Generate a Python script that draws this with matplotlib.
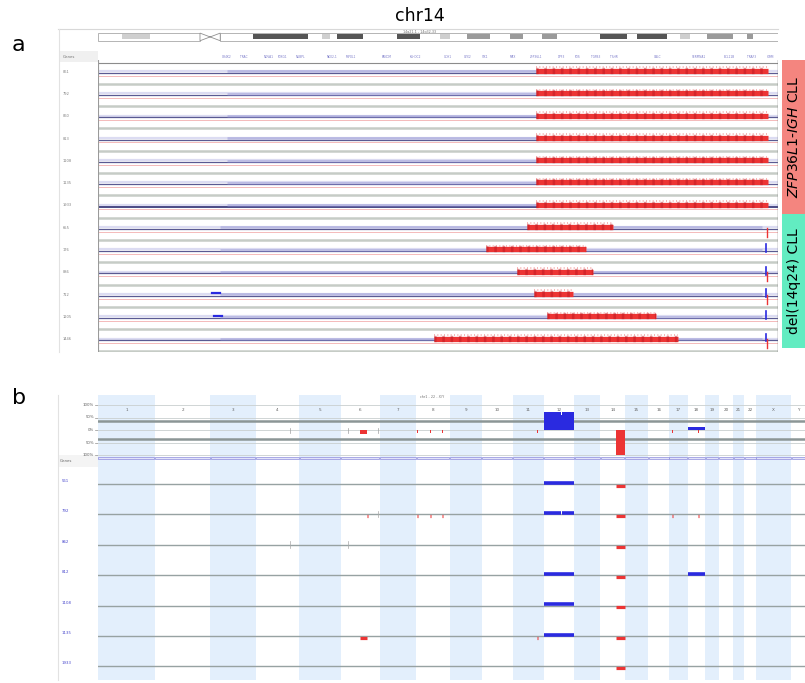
"""
chr14 copy number figure: (a) chr14 detail for 13 CLL cases, (b) genome-wide view
"""
import matplotlib.pyplot as plt
from matplotlib.patches import Rectangle, Polygon

W, H = 805, 683

# ---------------- panel a data (chr14, positions in Mb) ----------------
chr14_len = 107.35
band_start = [3.8, 24.5, 35.4, 37.7, 47.2, 54.0, 58.3, 65.0, 70.1, 79.3, 85.1, 91.9, 96.1, 102.5]
band_end = [8.2, 33.2, 36.6, 41.8, 50.8, 55.6, 61.9, 67.1, 72.5, 83.5, 89.8, 93.5, 100.2, 103.4]
band_stain = ['gpos25', 'gpos100', 'gpos25', 'gpos100', 'gpos100', 'gpos25', 'gpos50',
              'gpos50', 'gpos50', 'gpos100', 'gpos100', 'gpos25', 'gpos50', 'gpos50']
cen_start, cen_end = 16.1, 19.3

gene_names = ['OR4K2', 'TRAC', 'NOVA1', 'FOXG1', 'NUBPL', 'NKX2-1', 'MIPOL1', 'FANCM',
              'KLHDC2', 'GCH1', 'OTX2', 'SIX1', 'MAX', 'ZFP36L1', 'DPF3', 'FOS', 'TGFB3',
              'TSHR', 'GALC', 'SERPINA1', 'BCL11B', 'TRAF3', 'IGHM']
gene_pos = [20.3, 23.0, 26.9, 29.2, 32.0, 36.9, 40.0, 45.6, 50.2, 55.3, 58.3, 61.1, 65.5,
            69.2, 73.1, 75.7, 78.5, 81.4, 88.4, 94.8, 99.6, 103.2, 106.2]

a_samples = ['861', '792', '860', '813', '1108', '1135', '1933',
             '655', '176', '886', '712', '1205', '1446']
noise_start = [20.4, 20.4, 20.4, 20.4, 20.4, 20.4, 20.4, 19.3, 19.3, 19.3, 19.3, 19.3, 19.3]
loss_start = [69.2, 69.2, 69.2, 69.2, 69.2, 69.2, 69.2, 67.7, 61.2, 66.1, 68.8, 70.9, 53.0]
loss_end = [105.7, 105.7, 105.7, 105.7, 105.7, 105.7, 105.7, 81.3, 77.0, 78.1, 75.0, 88.1, 91.5]
# small calls at the IGH locus for the del(14q24) cases
igh_row = [7, 8, 9, 9, 10, 10, 11, 12, 12]
igh_kind = ['loss', 'gain', 'gain', 'loss', 'gain', 'loss', 'gain', 'gain', 'loss']
igh_pos = 105.4
# small gains near start of q arm
cen_gain_row = [10, 11]
cen_gain_pos = [18.6, 18.9]

# ---------------- panel b data (genome, Mb) ----------------
chroms = ['1', '2', '3', '4', '5', '6', '7', '8', '9', '10', '11', '12', '13', '14',
          '15', '16', '17', '18', '19', '20', '21', '22', 'X', 'Y']
chrom_len = [249.3, 243.2, 198.0, 191.2, 180.9, 171.1, 159.1, 146.4, 141.2, 135.5,
             135.0, 133.9, 115.2, 107.4, 102.5, 90.4, 81.2, 78.1, 59.1, 63.0, 48.1,
             51.3, 155.3, 59.4]

# aggregate profile: chromosome, start, end, fraction (+ gain, - loss)
cn_chrom = ['12', '12', '12', '14', '18', '18', '8', '8', '8', '11', '17', '6', '6']
cn_start = [0.0, 76.0, 80.0, 69.0, 0.0, 44.0, 4.0, 61.0, 113.0, 107.0, 14.0, 86.0, 110.0]
cn_end = [76.0, 80.0, 133.9, 106.3, 78.1, 52.0, 8.0, 65.0, 117.0, 111.0, 18.0, 117.0, 113.0]
cn_value = [0.72, 0.62, 0.72, -1.0, 0.13, -0.12, -0.12, -0.12, -0.12, -0.12, -0.12, -0.15, -0.42]
# faint single-probe calls
faint_chrom = ['4', '6', '6']
faint_pos = [151.0, 33.0, 165.0]

b_samples = ['561', '792', '862', '812', '1108', '1135', '1933']
ev_row = [0, 0, 1, 1, 1, 1, 1, 1, 1, 1, 1, 2, 3, 3, 3, 4, 4, 5, 5, 5, 5, 6]
ev_chrom = ['12', '14', '12', '12', '8', '8', '8', '6', '14', '17', '18', '14', '12', '14', '18',
            '12', '14', '12', '11', '6', '14', '14']
ev_start = [0.0, 69.0, 0.0, 83.0, 4.0, 61.0, 113.0, 114.0, 69.0, 14.0, 46.0, 69.0, 0.0, 69.0, 0.0,
            0.0, 69.0, 0.0, 107.0, 86.0, 69.0, 69.0]
ev_end = [133.9, 106.3, 74.5, 133.9, 8.0, 65.0, 117.0, 118.0, 106.3, 18.0, 50.0, 106.3, 133.9,
          106.3, 78.1, 133.9, 106.3, 133.9, 111.0, 117.0, 106.3, 106.3]
ev_kind = ['gain', 'loss', 'gain', 'gain', 'loss', 'loss', 'loss', 'loss', 'loss', 'loss', 'loss',
           'loss', 'gain', 'loss', 'gain', 'gain', 'loss', 'gain', 'loss', 'loss', 'loss', 'loss']
ev_faint_row = [1, 2, 2]
ev_faint_chrom = ['6', '4', '6']
ev_faint_pos = [165.0, 151.0, 33.0]

BLUE = '#2a2ae0'
RED = '#ec3434'
STAIN = {'gpos25': '#cfcfcf', 'gpos50': '#9a9a9a', 'gpos100': '#555555'}

fig = plt.figure(figsize=(W / 100, H / 100), dpi=100)


def px_axes(x0, y0, x1, y1, z=1):
    ax = fig.add_axes([x0 / W, 1 - y1 / H, (x1 - x0) / W, (y1 - y0) / H], zorder=z)
    ax.set_axis_off()
    return ax


# background axes in pixel units for frame lines and labels
bg = px_axes(0, 0, W, H, z=0)
bg.set_xlim(0, W)
bg.set_ylim(H, 0)

bg.text(12, 45, 'a', fontsize=16, va='center')
bg.text(12, 398, 'b', fontsize=16, va='center')
bg.text(420, 16, 'chr14', fontsize=12.5, ha='center', va='center')
bg.text(420, 32, '14q21.1 - 14q32.33', fontsize=2.4, ha='center', va='center', color='#707070')
bg.text(432, 397, 'chr1 - 22 - X/Y', fontsize=2.4, ha='center', va='center', color='#707070')

# panel a frame
bg.plot([58, 778], [29, 29], color='#d8d8d8', lw=0.8)
bg.plot([59, 59], [29, 352], color='#e2e2e2', lw=0.8)
bg.add_patch(Rectangle((59, 51), 39, 11, color='#f0f0f0', lw=0))
bg.text(63, 57, 'Genes', fontsize=2.8, va='center', color='#707070')

# panel b frame
bg.plot([58, 58], [395, 680], color='#e2e2e2', lw=0.8)
bg.add_patch(Rectangle((58, 455), 40, 12, color='#f4f4f4', lw=0))
bg.text(60, 461, 'Genes', fontsize=2.8, va='center', color='#606060')

# ---------------- panel a: ideogram ----------------
ideo = px_axes(98, 28, 778, 45, z=2)
ideo.set_xlim(0, chr14_len)
ideo.set_ylim(1, 0)
y0, hgt = 0.3, 0.45
ideo.add_patch(Rectangle((0, y0), cen_start, hgt, fc='white', ec='#a8a8a8', lw=0.6))
ideo.add_patch(Rectangle((cen_end, y0), chr14_len - cen_end, hgt, fc='white', ec='#a8a8a8', lw=0.6))
for s, e, st in zip(band_start, band_end, band_stain):
    ideo.add_patch(Rectangle((s, y0 + 0.08), e - s, hgt - 0.16, color=STAIN[st], lw=0))
ideo.add_patch(Rectangle((cen_start, y0), cen_end - cen_start, hgt, color='white', lw=0))
ideo.add_patch(Polygon([(cen_start, y0), (cen_end, y0 + hgt), (cen_end, y0), (cen_start, y0 + hgt)],
                       closed=True, fc='white', ec='#909090', lw=0.6))

# gene track
genes = px_axes(98, 51, 778, 62, z=2)
genes.set_xlim(0, chr14_len)
genes.set_ylim(1, 0)
for name, pos in zip(gene_names, gene_pos):
    genes.text(pos, 0.5, name, fontsize=2.1, color='#7878c8', ha='center', va='center')

# ---------------- panel a: sample tracks ----------------
row_px0, row_step = 72.7, 22.3
axa = px_axes(98, 60, 778, 352, z=2)
axa.set_xlim(0, chr14_len)
axa.set_ylim((352 - row_px0) / row_step, (60 - row_px0) / row_step)

axa.axhline(-0.45, color='#8c8c8c', lw=0.8)
for i, name in enumerate(a_samples):
    axa.axhline(i + 0.5, color='#c6ccc6', lw=1.8)
    axa.axhline(i - 0.08, color='#dcdcf2', lw=1.6)
    axa.axhline(i, color='#3c3c7c' if name == '1933' else '#5a5a92', lw=1.3 if name == '1933' else 0.9)
    axa.axhline(i + 0.13, color='#f3b0b0', lw=0.6)
    # faint log-ratio scatter before the deletion
    axa.plot([noise_start[i], loss_start[i]], [i - 0.06, i - 0.06], color='#8e8ed0', lw=2.0,
             alpha=0.45, solid_capstyle='butt')
    if loss_end[i] < 105:
        axa.plot([loss_end[i], 104.8], [i - 0.06, i - 0.06], color='#8e8ed0', lw=2.0,
                 alpha=0.45, solid_capstyle='butt')
    # deleted segment
    axa.plot([loss_start[i], loss_end[i]], [i - 0.08, i - 0.08], color=RED, lw=3.8,
             solid_capstyle='butt')
    axa.plot([loss_start[i], loss_end[i]], [i - 0.08, i - 0.08], color='#b8141e', lw=4.6,
             alpha=0.45, ls=(0, (0.4, 0.9)))
    axa.plot([loss_start[i], loss_end[i]], [i - 0.24, i - 0.24], color='#f07070', lw=1.2,
             alpha=0.6, ls=(0, (0.6, 1.4)))
    bg.text(63, row_px0 + row_step * i - 1, name, fontsize=2.6, va='center', color='#808080')

for r, k in zip(igh_row, igh_kind):
    if k == 'gain':
        axa.plot([igh_pos, igh_pos], [r - 0.3, r + 0.05], color=BLUE, lw=1.2)
    else:
        axa.plot([igh_pos + 0.25, igh_pos + 0.25], [r - 0.05, r + 0.35], color=RED, lw=1.0)
for r, p in zip(cen_gain_row, cen_gain_pos):
    axa.plot([p - 0.6, p + 0.6], [r - 0.1, r - 0.1], color=BLUE, lw=1.6)

axa.axvline(0, color='#9a9a9a', lw=0.8)
axa.axvline(chr14_len, color='#6a6a6a', lw=1.0)

# group labels on the right
grp = px_axes(782, 60, 805, 348, z=2)
grp.set_xlim(0, 1)
grp.set_ylim(348, 60)
grp.add_patch(Rectangle((0, 60), 1, 154, color='#f4857f', lw=0))
grp.add_patch(Rectangle((0, 214), 1, 134, color='#62ecc1', lw=0))
grp.text(0.5, 137, r'$\mathit{ZFP36L1}$-$\mathit{IGH}$ CLL', rotation=90, fontsize=10,
         ha='center', va='center')
grp.text(0.5, 281, 'del(14q24) CLL', rotation=90, fontsize=10, ha='center', va='center')

# ---------------- panel b: genome-wide ----------------
offset = {}
cum = 0.0
for c, L in zip(chroms, chrom_len):
    offset[c] = cum
    cum += L
total = cum

chrax = px_axes(98, 395, 805, 680, z=1)
chrax.set_xlim(0, total)
chrax.set_ylim(680, 395)
for k, (c, L) in enumerate(zip(chroms, chrom_len)):
    if k % 2 == 0:
        chrax.axvspan(offset[c], offset[c] + L, color='#e3effc', lw=0)
    chrax.text(offset[c] + L / 2, 410, c, fontsize=3, ha='center', va='center', color='#606060')

# aggregate copy number track
cn = px_axes(98, 400, 805, 460, z=2)
cn.set_xlim(0, total)
cn.set_ylim(-1.2, 1.2)
for lvl in [1.0, 0.5, 0.0, -0.5, -1.0]:
    cn.axhline(lvl, color='#c9cfcf', lw=0.6, zorder=1)
cn.axhline(0.36, color='#8c9696', lw=1.8, zorder=1)
cn.axhline(-0.36, color='#8c9696', lw=1.8, zorder=1)
for lbl, lvl in zip(['100%', '50%', '0%', '50%', '100%'], [1.0, 0.5, 0.0, -0.5, -1.0]):
    bg.text(94, 430 - 25 * lvl, lbl, fontsize=2.8, ha='right', va='center', color='#606060')
    bg.plot([95, 98], [430 - 25 * lvl] * 2, color='#909090', lw=0.5)
for c, s, e, v in zip(cn_chrom, cn_start, cn_end, cn_value):
    cn.add_patch(Rectangle((offset[c] + s, 0), e - s, v, color=BLUE if v > 0 else RED, lw=0,
                           zorder=3))
for c, p in zip(faint_chrom, faint_pos):
    cn.plot([offset[c] + p] * 2, [-0.12, 0.1], color='#a0a0a0', lw=0.5, zorder=3)
# gene strip
for c, L in zip(chroms, chrom_len):
    cn.add_patch(Rectangle((offset[c] + 2, -1.16), L - 4, 0.08, fc='#e2e2fa', ec='#8c8cdc', lw=0.5,
                           zorder=3))

# per-sample calls
rows_px0, rows_step = 484, 30.4
rows = px_axes(98, 470, 805, 680, z=2)
rows.set_xlim(0, total)
rows.set_ylim((680 - rows_px0) / rows_step, (470 - rows_px0) / rows_step)
for i, name in enumerate(b_samples):
    rows.axhline(i, color='#97a2a2', lw=1.0)
    bg.text(62, rows_px0 + rows_step * i - 3, name, fontsize=2.8, va='center', color='#4646cc')
for r, c, s, e, k in zip(ev_row, ev_chrom, ev_start, ev_end, ev_kind):
    if k == 'gain':
        rows.plot([offset[c] + s, offset[c] + e], [r - 0.04, r - 0.04], color=BLUE,
                  lw=2.6, solid_capstyle='butt')
    else:
        rows.plot([offset[c] + s, offset[c] + e], [r + 0.06, r + 0.06], color=RED,
                  lw=2.3, solid_capstyle='butt')
for r, c, p in zip(ev_faint_row, ev_faint_chrom, ev_faint_pos):
    rows.plot([offset[c] + p] * 2, [r - 0.12, r + 0.1], color='#a8a8a8', lw=0.5)

fig.savefig('out.png', dpi=100)
